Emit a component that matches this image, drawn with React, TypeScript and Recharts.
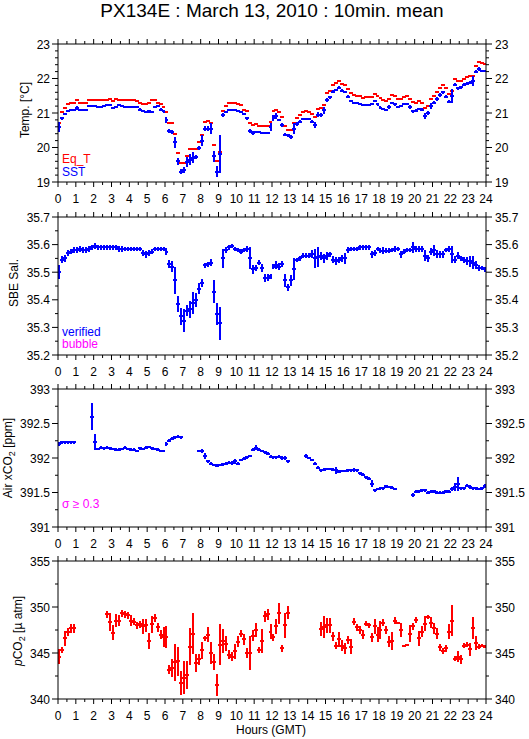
import React from "react";
import { ScatterChart, Scatter, XAxis, YAxis, ErrorBar } from "recharts";

// PX134E, 13 March 2010, 10-minute means (144 bins, hour 0..24)
const hourLabels = [0, 1, 2, 3, 4, 5, 6, 7, 8, 9, 10, 11, 12, 13, 14, 15, 16, 17, 18, 19, 20, 21, 22, 23, 24];
const tempLabels = [19, 20, 21, 22, 23];
const salLabels = [35.2, 35.3, 35.4, 35.5, 35.6, 35.7];
const airLabels = [391, 391.5, 392, 392.5, 393];
const pco2Labels = [340, 345, 350, 355];

const _ = null;

// equilibrator temperature [°C]
const eqT = [
  20.70, 21.03, 21.15, 21.25, 21.30, 21.30,
  21.38, 21.30, 21.30, 21.30, 21.38, 21.38,
  21.38, 21.38, 21.38, 21.38, 21.38, 21.42,
  21.35, 21.42, 21.38, 21.38, 21.38, 21.38,
  21.38, 21.38, 21.35, 21.30, 21.25, 21.25,
  21.30, 21.38, 21.38, 21.30, 21.25, 21.18,
  21.03, 20.70, 20.70, 20.40, 19.85, 19.55,
  19.55, 19.75, 19.97, 19.97, 19.95, 20.15,
  20.35, 20.75, 20.78, 20.72, 20.07, 19.60,
  19.87, 21.05, 21.20, 21.30, 21.30, 21.30,
  21.25, 21.22, 21.10, 21.05, 20.70, 20.65,
  20.67, 20.63, 20.63, 20.63, 20.62, 20.75,
  21.05, 21.10, 21.02, 20.88, 20.62, 20.50,
  20.50, 20.70, 20.85, 20.93, 21.03, 21.05,
  21.02, 20.97, 20.87, 21.13, 21.15, 21.22,
  21.58, 21.65, 21.80, 21.88, 21.93, 21.85,
  21.82, 21.70, 21.57, 21.52, 21.50, 21.50,
  21.43, 21.45, 21.45, 21.47, 21.55, 21.48,
  21.43, 21.38, 21.35, 21.40, 21.52, 21.50,
  21.40, 21.40, 21.47, 21.50, 21.42, 21.32,
  21.28, 21.35, 21.30, 21.15, 21.20, 21.40,
  21.50, 21.60, 21.73, 21.82, 21.72, 21.55,
  21.65, 22.00, 21.93, 21.93, 22.00, 22.05,
  22.07, 22.08, 22.37, 22.48, 22.45, 22.42,
];

const sst = [
  20.60, 20.85, 20.97, 21.05, 21.08, 21.10,
  21.15, 21.10, 21.10, 21.10, 21.20, 21.20,
  21.19, 21.18, 21.18, 21.20, 21.22, 21.24,
  21.15, 21.17, 21.22, 21.20, 21.18, 21.18,
  21.18, 21.18, 21.17, 21.10, 21.07, 21.04,
  21.05, 21.03, 21.17, 21.19, 21.10, 21.05,
  20.80, 20.47, 20.45, 20.15, 19.60, 19.30,
  19.35, 19.58, 19.65, 19.70, 19.72, 19.98,
  20.20, 20.55, 20.55, 20.55, 19.75, 19.30,
  19.80, 20.93, 21.03, 21.10, 21.08, 21.08,
  21.05, 21.03, 20.97, 20.85, 20.47, 20.42,
  20.45, 20.45, 20.43, 20.42, 20.42, 20.60,
  20.85, 20.92, 20.80, 20.65, 20.37, 20.35,
  20.30, 20.55, 20.67, 20.75, 20.82, 20.82,
  20.82, 20.75, 20.65, 20.95, 20.95, 21.08,
  21.38, 21.45, 21.62, 21.67, 21.73, 21.65,
  21.62, 21.47, 21.35, 21.30, 21.28, 21.27,
  21.22, 21.22, 21.22, 21.25, 21.35, 21.25,
  21.15, 21.12, 21.10, 21.18, 21.30, 21.25,
  21.17, 21.20, 21.25, 21.27, 21.17, 21.05,
  21.07, 21.12, 21.10, 20.92, 21.00, 21.20,
  21.30, 21.40, 21.52, 21.60, 21.47, 21.33,
  21.50, 21.82, 21.72, 21.75, 21.82, 21.85,
  21.88, 21.93, 22.20, 22.28, 22.22, 22.22,
];

const sstSd = [
  .15, .04, .04, .03, .03, .03,
  .05, .03, .03, .03, .03, .03,
  .03, .03, .03, .03, .03, .03,
  .03, .03, .03, .03, .03, .03,
  .03, .03, .03, .04, .03, .03,
  .04, .03, .03, .03, .04, .04,
  .08, .06, .06, .16, .10, .08,
  .08, .15, .16, .16, .06, .06,
  .15, .06, .06, .15, .16, .15,
  .55, .06, .04, .03, .03, .03,
  .03, .03, .03, .04, .06, .05,
  .04, .03, .03, .03, .03, .12,
  .08, .08, .04, .06, .05, .05,
  .05, .15, .06, .04, .03, .03,
  .03, .04, .08, .08, .06, .10,
  .06, .05, .04, .04, .04, .04,
  .03, .04, .03, .03, .03, .03,
  .03, .03, .03, .03, .03, .04,
  .04, .03, .03, .05, .03, .04,
  .03, .03, .03, .03, .05, .04,
  .04, .03, .04, .08, .05, .08,
  .05, .06, .05, .04, .04, .04,
  .20, .04, .04, .04, .04, .04,
  .05, .15, .05, .05, .03, .03,
];

// SBE salinity (verified)
const sal = [
  35.500, 35.545, 35.550, 35.570, 35.575, 35.580,
  35.580, 35.585, 35.580, 35.580, 35.585, 35.590,
  35.595, 35.590, 35.590, 35.590, 35.590, 35.590,
  35.590, 35.590, 35.585, 35.585, 35.585, 35.585,
  35.585, 35.585, 35.585, 35.585, 35.570, 35.565,
  35.570, 35.575, 35.585, 35.585, 35.585, 35.585,
  35.575, 35.530, 35.520, 35.470, 35.385, 35.340,
  35.325, 35.360, 35.365, 35.390, 35.400, 35.440,
  35.460, 35.525, 35.528, 35.535, 35.430, 35.350,
  35.315, 35.550, 35.580, 35.590, 35.595, 35.585,
  35.580, 35.575, 35.580, 35.585, 35.550, 35.510,
  35.515, 35.535, 35.515, 35.480, 35.480, 35.485,
  35.520, 35.525, 35.520, 35.530, 35.470, 35.445,
  35.470, 35.510, 35.545, 35.550, 35.560, 35.560,
  35.560, 35.565, 35.550, 35.555, 35.560, 35.550,
  35.560, 35.565, 35.545, 35.540, 35.545, 35.550,
  35.550, 35.580, 35.585, 35.585, 35.585, 35.590,
  35.590, 35.590, 35.590, 35.565, 35.570, 35.585,
  35.578, 35.578, 35.578, 35.578, 35.580, 35.585,
  35.585, 35.565, 35.575, 35.580, 35.580, 35.590,
  35.585, 35.585, 35.585, 35.560, 35.550, 35.575,
  35.580, 35.565, 35.565, 35.565, 35.580, 35.585,
  35.565, 35.545, 35.560, 35.550, 35.545, 35.540,
  35.540, 35.535, 35.525, 35.515, 35.515, 35.510,
];

const salSd = [
  .025, .012, .012, .010, .010, .012,
  .012, .010, .012, .010, .010, .010,
  .010, .010, .010, .010, .010, .010,
  .010, .010, .010, .010, .008, .008,
  .008, .008, .008, .008, .012, .012,
  .010, .008, .008, .008, .008, .008,
  .012, .015, .020, .050, .030, .030,
  .040, .020, .030, .040, .025, .020,
  .015, .010, .010, .012, .040, .040,
  .060, .035, .012, .008, .008, .008,
  .008, .008, .008, .010, .040, .015,
  .012, .010, .015, .015, .012, .010,
  .010, .015, .012, .012, .025, .012,
  .020, .040, .008, .008, .008, .008,
  .008, .015, .035, .035, .015, .015,
  .015, .010, .012, .015, .010, .012,
  .020, .010, .008, .008, .008, .008,
  .008, .008, .008, .012, .010, .008,
  .008, .012, .008, .008, .008, .010,
  .008, .012, .008, .008, .008, .020,
  .010, .010, .010, .020, .012, .012,
  .020, .015, .012, .012, .008, .010,
  .030, .012, .012, .010, .010, .015,
  .020, .025, .015, .010, .008, .008,
];

// atmospheric xCO2 [ppm]
const airCo2 = [
  392.20, 392.23, 392.23, 392.23, 392.23, 392.23,
  _, _, _, _, _, 392.60,
  392.23, 392.13, 392.15, 392.14, 392.15, 392.14,
  392.13, 392.12, 392.12, 392.13, 392.15, 392.13,
  392.12, 392.12, 392.10, 392.14, 392.13, 392.15,
  392.16, 392.14, 392.13, 392.12, 392.10, 392.10,
  392.20, 392.25, 392.28, 392.30, 392.31, 392.30,
  _, _, _, _, _, 392.10,
  392.10, 392.03, 391.95, 391.92, 391.90, 391.89,
  391.90, 391.91, 391.92, 391.93, 391.93, 391.95,
  391.92, 391.97, 391.99, 392.01, 392.03, 392.12,
  392.15, 392.12, 392.10, 392.08, 392.06, 392.02,
  392.01, 392.01, 392.02, 392.00, 392.00, 391.95,
  _, _, _, _, _, 392.03,
  392.00, 391.97, 391.92, 391.86, 391.82, 391.83,
  391.84, 391.84, 391.83, 391.82, 391.80, 391.81,
  391.81, 391.82, 391.82, 391.83, 391.82, 391.78,
  391.76, 391.72, 391.70, 391.63, 391.53, 391.55,
  391.56, 391.56, 391.59, 391.58, 391.57, 391.55,
  _, _, _, _, _, 391.46,
  391.51, 391.52, 391.53, 391.53, 391.50, 391.51,
  391.52, 391.50, 391.50, 391.50, 391.52, 391.51,
  391.55, 391.58, 391.62, 391.56, 391.56, 391.60,
  391.58, 391.56, 391.56, 391.55, 391.56, 391.60,
];

const airSd = [
  .03, .02, .02, .02, .02, .02,
  0, 0, 0, 0, 0, .20,
  .12, .02, .02, .02, .02, .02,
  .02, .02, .02, .02, .02, .02,
  .02, .02, .02, .02, .02, .02,
  .02, .02, .02, .02, .02, .02,
  .03, .02, .02, .02, .02, .02,
  0, 0, 0, 0, 0, .02,
  .03, .04, .02, .02, .02, .02,
  .02, .02, .02, .02, .03, .04,
  .02, .02, .02, .02, .02, .02,
  .04, .02, .02, .02, .02, .02,
  .02, .02, .02, .03, .03, .02,
  0, 0, 0, 0, 0, .03,
  .02, .02, .02, .02, .02, .02,
  .02, .02, .02, .05, .02, .02,
  .02, .02, .02, .03, .02, .02,
  .02, .02, .02, .05, .02, .02,
  .02, .02, .02, .02, .02, .02,
  0, 0, 0, 0, 0, .03,
  .02, .02, .02, .02, .02, .02,
  .02, .02, .02, .02, .02, .02,
  .03, .06, .10, .02, .02, .02,
  .03, .02, .02, .02, .02, .03,
];

// seawater pCO2 [µatm]
const pco2 = [
  344.6, 345.3, 346.6, 347.3, 347.7, 347.7,
  _, _, _, _, _, _,
  _, _, _, _, 349.2, 348.4,
  347.2, 348.5, 348.5, 349.3, 349.2, 349.1,
  348.5, 348.4, 348.0, 348.1, 347.9, 348.0,
  346.3, 348.1, 348.8, 347.8, 347.0, 346.7,
  346.7, 343.2, 343.4, 344.0, 344.1, 341.7,
  342.3, 342.6, 345.7, 347.1, 343.9, 344.3,
  345.3, 346.6, 347.0, 345.0, 344.0, 341.5,
  345.9, 346.3, 346.0, 344.8, 344.6, 345.2,
  346.2, 347.1, 346.5, 345.0, 345.0, 346.9,
  347.5, 345.3, 346.3, 349.0, 349.2, 347.3,
  346.7, 347.9, 349.3, 345.5, 348.0, 349.4,
  _, _, _, _, _, _,
  _, _, _, _, 347.6, 347.8,
  348.0, 348.0, 346.8, 345.8, 346.5, 345.8,
  345.5, 346.4, 345.7, 348.4, 347.8, 347.5,
  347.0, 348.2, 348.0, 346.7, 347.9, 347.0,
  347.5, 348.3, 347.5, 346.2, 346.3, 348.5,
  348.3, 347.5, 345.8, 345.9, 347.1, 347.9,
  348.6, 346.6, 347.3, 348.2, 348.9, 348.3,
  347.7, 347.1, 345.6, 345.2, 345.5, 347.3,
  348.5, 344.4, 344.6, 344.3, 345.8, 345.9,
  345.4, 347.7, 346.1, 345.7, 345.8, 345.7,
];

const pco2Sd = [
  .8, .3, .8, .4, .5, .5,
  0, 0, 0, 0, 0, 0,
  0, 0, 0, 0, .4, 1.0,
  .8, .7, .6, .4, .4, .4,
  .6, .4, .4, .4, .8, .7,
  .9, .9, .4, .5, .5, 1.1,
  1.2, .5, 1.0, 2.0, 1.6, 1.3,
  1.8, 1.5, 2.0, 2.2, 1.0, .6,
  .9, .3, .8, 1.2, .9, 1.2,
  2.2, 1.3, .8, .5, .5, .8,
  .6, .4, .6, .5, 1.8, .6,
  .8, .3, 1.3, .6, .6, .8,
  .4, .8, 1.1, .4, 1.4, .7,
  0, 0, 0, 0, 0, 0,
  0, 0, 0, 0, .8, 1.2,
  .8, .8, .5, .4, .8, .6,
  .6, .4, .8, .4, .4, .4,
  .5, .3, .3, .5, .8, .8,
  1.0, .4, .4, .6, 1.0, .4,
  .1, .8, .1, .1, .9, .4,
  .3, .8, .6, .8, .2, .6,
  .6, .6, .4, .3, .4, .8,
  1.7, .3, .6, .5, .3, .3,
  .7, 1.2, .8, .3, .2, .2,
];

const BLUE = "#0000ff";
const RED = "#ff0000";
const MAGENTA = "#ff00ff";
const FONT = "'Liberation Sans', Arial, Helvetica, sans-serif";

const BIN = 1 / 6; // 10 minutes, in hours
const MARK_HALF = 0.11; // half width of the horizontal bar, hours

type Row = { h: number; v: number; e: number; ex: number };

function toRows(values: (number | null)[], sd?: number[]): Row[] {
  const out: Row[] = [];
  values.forEach((v, i) => {
    if (v == null) return;
    out.push({ h: (i + 0.5) * BIN, v, e: sd ? sd[i] : 0, ex: MARK_HALF });
  });
  return out;
}

function withMinor(labels: number[], step: number) {
  const lo = labels[0];
  const n = Math.round((labels[labels.length - 1] - lo) / step);
  return Array.from({ length: n + 1 }, (_v, k) => lo + k * step);
}

const xTicks = withMinor(hourLabels, 0.5);

function makeTick(side: "top" | "bottom" | "left" | "right", labels: number[], fmt: (v: number) => string, showText: boolean) {
  return (props: any) => {
    const { x, y, payload } = props;
    const hit = labels.find((m) => Math.abs(m - payload.value) < 1e-6);
    const major = hit !== undefined;
    const horiz = side === "top" || side === "bottom";
    const len = major ? (horiz ? 5 : 6) : 3;
    let line;
    let text = null;
    if (side === "bottom") {
      line = <line x1={x} y1={y} x2={x} y2={y + len} stroke="#000" />;
      if (major && showText) text = <text x={x} y={y + 21} textAnchor="middle">{fmt(hit as number)}</text>;
    } else if (side === "top") {
      line = <line x1={x} y1={y} x2={x} y2={y - len} stroke="#000" />;
    } else if (side === "left") {
      line = <line x1={x} y1={y} x2={x - len} y2={y} stroke="#000" />;
      if (major && showText) text = <text x={x - 8} y={y + 4.5} textAnchor="end">{fmt(hit as number)}</text>;
    } else {
      line = <line x1={x} y1={y} x2={x + len} y2={y} stroke="#000" />;
      if (major && showText) text = <text x={x + 9} y={y + 4.5} textAnchor="start">{fmt(hit as number)}</text>;
    }
    return (
      <g fontFamily={FONT} fontSize={12} fill="#000">
        {line}
        {text}
      </g>
    );
  };
}

type SeriesDef = { name: string; rows: Row[]; color: string; yErr: boolean };

function Panel({ top, labels, step, fmt, series }: { top: number; labels: number[]; step: number; fmt: (v: number) => string; series: SeriesDef[] }) {
  const yTicks = withMinor(labels, step);
  const domain = [labels[0], labels[labels.length - 1]];
  const xFmt = (v: number) => String(v);
  const axisLine = { stroke: "#000", strokeWidth: 1 };
  return (
    <div style={{ position: "absolute", left: 0, top }}>
      <ScatterChart width={529} height={180} margin={{ top: 9, right: 3, bottom: 0, left: 8 }}>
        <XAxis xAxisId="b" type="number" dataKey="h" domain={[0, 24]} ticks={xTicks} interval={0} orientation="bottom"
          height={32} tickSize={0} tickMargin={0} tickLine={false} axisLine={axisLine} allowDataOverflow
          tick={makeTick("bottom", hourLabels, xFmt, true)} />
        <XAxis xAxisId="t" type="number" dataKey="h" domain={[0, 24]} ticks={xTicks} interval={0} orientation="top"
          height={1} tickSize={0} tickMargin={0} tickLine={false} axisLine={axisLine} allowDataOverflow
          tick={makeTick("top", hourLabels, xFmt, false)} />
        <YAxis yAxisId="l" type="number" dataKey="v" domain={domain} ticks={yTicks} interval={0} orientation="left"
          width={50} tickSize={0} tickMargin={0} tickLine={false} axisLine={axisLine} allowDataOverflow
          tick={makeTick("left", labels, fmt, true)} />
        <YAxis yAxisId="r" type="number" dataKey="v" domain={domain} ticks={yTicks} interval={0} orientation="right"
          width={40} tickSize={0} tickMargin={0} tickLine={false} axisLine={axisLine} allowDataOverflow
          tick={makeTick("right", labels, fmt, true)} />
        {series.map((s) => (
          <Scatter key={s.name} name={s.name} data={s.rows} xAxisId="b" yAxisId="l" fill={s.color}
            isAnimationActive={false} shape={() => <g />}>
            <ErrorBar dataKey="ex" direction="x" width={0} stroke={s.color} strokeWidth={2}
              shapeRendering="crispEdges" isAnimationActive={false} />
            {s.yErr && <ErrorBar dataKey="e" direction="y" width={0} stroke={s.color} strokeWidth={2}
              shapeRendering="crispEdges" isAnimationActive={false} />}
          </Scatter>
        ))}
      </ScatterChart>
    </div>
  );
}

export default function App() {
  const f0 = (v: number) => String(v);
  const f1 = (v: number) => v.toFixed(1);
  return (
    <div style={{ position: "absolute", left: 0, top: 0, width: 529, height: 739, background: "#fff", fontFamily: FONT }}>
      <Panel top={34} labels={tempLabels} step={0.2} fmt={f0} series={[
        { name: "Eq_T", rows: toRows(eqT), color: RED, yErr: false },
        { name: "SST", rows: toRows(sst, sstSd), color: BLUE, yErr: true },
      ]} />
      <Panel top={207} labels={salLabels} step={0.05} fmt={f1} series={[
        { name: "verified", rows: toRows(sal, salSd), color: BLUE, yErr: true },
      ]} />
      <Panel top={379} labels={airLabels} step={0.25} fmt={f0} series={[
        { name: "air", rows: toRows(airCo2, airSd), color: BLUE, yErr: true },
      ]} />
      <Panel top={551} labels={pco2Labels} step={2.5} fmt={f0} series={[
        { name: "pCO2", rows: toRows(pco2, pco2Sd), color: RED, yErr: true },
      ]} />
      <svg width={529} height={739} style={{ position: "absolute", left: 0, top: 0, pointerEvents: "none" }}
        fontFamily={FONT} fontSize={12}>
        <text x={272} y={17} textAnchor="middle" fontSize={19}>PX134E : March 13, 2010 : 10min. mean</text>
        <text transform="translate(28.5,110) rotate(-90)" textAnchor="middle">Temp. [°C]</text>
        <text transform="translate(18,283) rotate(-90)" textAnchor="middle">SBE Sal.</text>
        <text transform="translate(11.5,458) rotate(-90)" textAnchor="middle">
          Air xCO<tspan fontSize={9} dy={3}>2</tspan><tspan dy={-3}> [ppm]</tspan>
        </text>
        <text transform="translate(21.5,631) rotate(-90)" textAnchor="middle">
          <tspan fontStyle="italic">p</tspan>CO<tspan fontSize={9} dy={3}>2</tspan><tspan dy={-3}> [µ atm]</tspan>
        </text>
        <text x={62} y={163} fill={RED}>Eq_T</text>
        <text x={62} y={175.5} fill={BLUE}>SST</text>
        <text x={62} y={335.5} fill={BLUE}>verified</text>
        <text x={62} y={348} fill={MAGENTA}>bubble</text>
        <text x={62} y={507.5} fill={MAGENTA}>σ ≥ 0.3</text>
        <text x={271} y={734} textAnchor="middle">Hours (GMT)</text>
      </svg>
    </div>
  );
}
